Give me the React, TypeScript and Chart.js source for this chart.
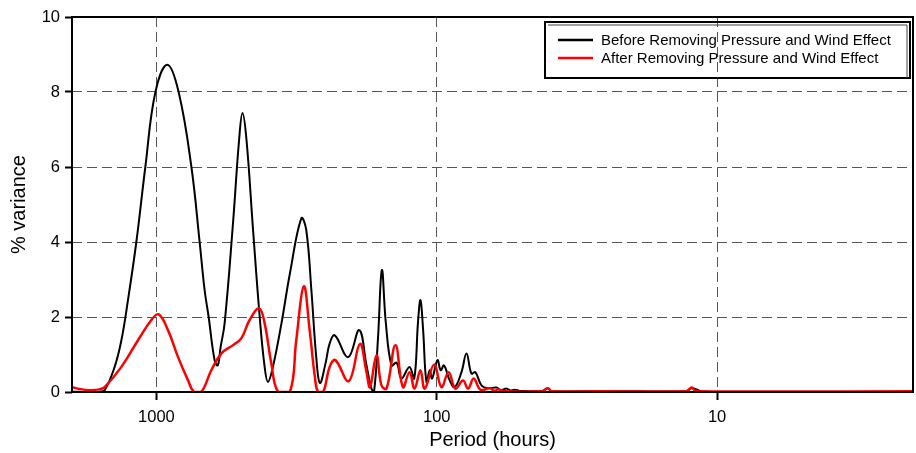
import React, { useEffect, useRef } from "react";
import { Chart, registerables } from "chart.js";

Chart.register(...registerables);

const xTickValues = [1000, 100, 10];
const yTickMin = 0;
const yTickMax = 10;
const yTickStep = 2;

const seriesLabels = [
  "Before Removing Pressure and Wind Effect",
  "After Removing Pressure and Wind Effect",
];

const periodsBefore = [
  2000, 1730, 1600, 1529, 1409, 1333, 1263, 1179, 1095, 1008, 914, 833, 750, 701, 673, 651, 620, 604,
  590, 571, 533, 507, 493, 477, 452, 428, 411, 400, 384, 358, 334, 304, 292, 280, 269, 261, 249.5, 241,
  231, 207, 189, 178, 171, 167.4, 162, 156.9, 152, 145, 139, 133.6, 125.1, 120.3, 116.6, 114.3, 111.9,
  108.8, 105.9, 103.9, 99.4, 96.8, 94.2, 89.9, 86.3, 81.6, 78.3, 75.2, 72.8, 69.3, 65.8, 61.2, 59.1,
  56.4, 54.5, 52.7, 50.6, 42, 40.2, 38.9, 26.2, 12.9, 12.3, 11.5, 10.6, 2,
];
const valuesBefore = [
  0.01, 0.0, 0.01, 0.05, 0.67, 1.38, 2.45, 4.0, 6.0, 8.0, 8.73, 8.0, 6.0, 4.0, 2.72, 2.0, 0.85, 0.71,
  1.2, 1.83, 4.5, 6.72, 7.44, 6.72, 4.32, 2.0, 0.67, 0.27, 0.67, 1.83, 3.16, 4.63, 4.32, 2.72, 0.93,
  0.24, 0.75, 1.29, 1.51, 0.93, 1.65, 0.71, 0.09, 0.0, 1.43, 3.25, 1.87, 0.71, 0.78, 0.36, 0.67, 0.36,
  1.87, 2.45, 1.69, 0.27, 0.58, 0.36, 0.85, 0.58, 0.71, 0.31, 0.13, 0.53, 1.03, 0.49, 0.53, 0.18, 0.1,
  0.12, 0.05, 0.09, 0.04, 0.06, 0.03, 0.03, 0.1, 0.02, 0.03, 0.02, 0.1, 0.03, 0.0, 0.0,
];

const periodsAfter = [
  2000, 1877, 1730, 1594, 1529, 1333, 1163, 1042, 981, 909, 837, 771, 734, 691, 637, 586, 533, 498,
  465, 430, 411, 389, 368, 334, 317, 298, 284, 272, 265, 254, 241, 230, 206, 188, 178, 173, 164, 157.5,
  151, 140.4, 132, 125, 120, 114.3, 110.4, 102.2, 96.2, 90.7, 85.8, 80.6, 77.3, 73.8, 69.8, 64.7,
  62.1, 60.4, 57.2, 42, 40.1, 38.9, 26.2, 12.9, 12.3, 11.9, 2,
];
const valuesAfter = [
  0.13, 0.08, 0.05, 0.07, 0.13, 0.67, 1.38, 1.92, 2.07, 1.65, 0.93, 0.31, 0.0, 0.0, 0.58, 1.03, 1.25,
  1.43, 1.92, 2.23, 1.83, 0.76, 0.0, 0.0, 1.38, 2.82, 1.65, 0.4, 0.0, 0.0, 0.67, 0.85, 0.29, 1.28,
  0.53, 0.13, 0.98, 0.18, 0.09, 1.25, 0.13, 0.53, 0.09, 0.58, 0.09, 0.73, 0.13, 0.53, 0.09, 0.31, 0.09,
  0.36, 0.06, 0.1, 0.03, 0.07, 0.02, 0.02, 0.1, 0.02, 0.02, 0.02, 0.12, 0.02, 0.02,
];

const FONT = "'Liberation Sans', Arial, Helvetica, sans-serif";

const framePlugin = {
  id: "frameAndLegend",
  afterDraw(chart: any) {
    const { ctx, chartArea } = chart;
    ctx.save();
    ctx.setLineDash([]);
    ctx.strokeStyle = "#000";
    ctx.lineWidth = 2;
    ctx.strokeRect(chartArea.left, chartArea.top, chartArea.right - chartArea.left, chartArea.bottom - chartArea.top);

    // legend box
    const bx = 545, by = 22, bw = 365, bh = 56;
    ctx.lineWidth = 2;
    ctx.strokeRect(bx, by, bw, bh);
    ctx.lineWidth = 1;
    ctx.strokeStyle = "#444";
    ctx.beginPath();
    ctx.moveTo(bx + 3, by + 3);
    ctx.lineTo(bx + bw - 3, by + 3);
    ctx.lineTo(bx + bw - 3, by + bh);
    ctx.stroke();

    const ds = chart.data.datasets;
    const rows = [40, 58];
    ctx.font = `15px ${FONT}`;
    ctx.textBaseline = "middle";
    ctx.textAlign = "left";
    ds.forEach((d: any, i: number) => {
      ctx.strokeStyle = d.borderColor;
      ctx.lineWidth = 2.5;
      ctx.beginPath();
      ctx.moveTo(558, rows[i]);
      ctx.lineTo(593, rows[i]);
      ctx.stroke();
      ctx.fillStyle = "#000";
      ctx.fillText(d.label, 601, rows[i] + 1);
    });
    ctx.restore();
  },
};

export default function App() {
  const ref = useRef<HTMLCanvasElement | null>(null);
  useEffect(() => {
    if (!ref.current) return;
    const chart = new Chart(ref.current, {
      type: "line",
      data: {
        datasets: [
          {
            label: seriesLabels[0],
            data: periodsBefore.map((p, i) => ({ x: p, y: valuesBefore[i] })),
            borderColor: "#000000",
            borderWidth: 2,
            pointRadius: 0,
            tension: 0.4,
            order: 1,
          },
          {
            label: seriesLabels[1],
            data: periodsAfter.map((p, i) => ({ x: p, y: valuesAfter[i] })),
            borderColor: "#ff0000",
            borderWidth: 2.5,
            pointRadius: 0,
            tension: 0.4,
            order: 0,
          },
        ],
      },
      options: {
        animation: false,
        responsive: true,
        maintainAspectRatio: false,
        layout: { padding: { top: 17, right: 3, left: 0, bottom: 0 } },
        plugins: { legend: { display: false }, tooltip: { enabled: false } },
        scales: {
          x: {
            type: "logarithmic",
            reverse: true,
            min: 2,
            max: 2000,
            afterBuildTicks: (s: any) => {
              s.ticks = xTickValues.map((v) => ({ value: v }));
            },
            afterFit: (s: any) => {
              s.height = 61;
            },
            ticks: {
              autoSkip: false,
              maxRotation: 0,
              padding: 8,
              color: "#000",
              font: { family: FONT, size: 16.5 },
              callback: (v: any) => String(v),
            },
            grid: {
              color: "#555",
              lineWidth: 1,
              tickLength: 8,
              tickColor: "#000",
              tickWidth: 2,
              tickBorderDash: [],
            },
            border: { display: false, dash: [10, 5] },
            title: {
              display: true,
              text: "Period (hours)",
              color: "#000",
              font: { family: FONT, size: 20 },
              padding: { top: 0, bottom: 1 },
            },
          },
          y: {
            min: yTickMin,
            max: yTickMax,
            afterFit: (s: any) => {
              s.width = 72;
            },
            ticks: {
              stepSize: yTickStep,
              padding: 5,
              color: "#000",
              font: { family: FONT, size: 16.5 },
            },
            grid: {
              color: "#555",
              lineWidth: 1,
              tickLength: 7,
              tickColor: "#000",
              tickWidth: 2,
              tickBorderDash: [],
            },
            border: { display: false, dash: [10, 5] },
            title: {
              display: true,
              text: "% variance",
              color: "#000",
              font: { family: FONT, size: 20 },
              padding: { top: 7, bottom: 0 },
            },
          },
        },
      },
      plugins: [framePlugin],
    } as any);
    return () => chart.destroy();
  }, []);
  return (
    <div style={{ position: "fixed", left: 0, top: 0, width: 916, height: 453, background: "#fff" }}>
      <canvas ref={ref} />
    </div>
  );
}
